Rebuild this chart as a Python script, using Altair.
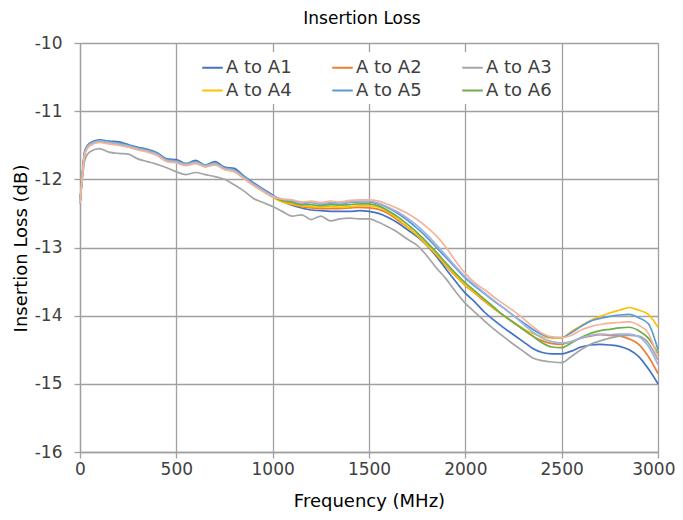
import altair as alt
import pandas as pd

# Frequency points (MHz)
freq = [0, 10, 25, 50] + list(range(100, 3001, 50))

names = ["A to A1", "A to A2", "A to A3", "A to A4", "A to A5", "A to A6", "A to A7", "A to A8"]
colors = ["#4472C4", "#ED7D31", "#A5A5A5", "#FFC000", "#5B9BD5", "#70AD47", "#9DB3E0", "#F4B49A"]

a1 = [-12.35, -12.0, -11.58, -11.47,
      -11.42, -11.44, -11.45, -11.49, -11.53, -11.56, -11.61, -11.7, -11.71, -11.77, -11.72, -11.79, -11.74, -11.82, -11.84, -11.95, -12.05, -12.14, -12.23,
      -12.32, -12.38, -12.42, -12.45, -12.46, -12.47, -12.47, -12.47, -12.46, -12.47,
      -12.5, -12.56, -12.64, -12.74, -12.84, -12.97, -13.13, -13.32, -13.5, -13.67, -13.8, -13.95, -14.07, -14.18, -14.28, -14.38, -14.48, -14.54, -14.56, -14.56,
      -14.52, -14.46, -14.43, -14.42, -14.43, -14.45, -14.5, -14.6, -14.78, -15.0]
a2 = [-12.35, -12.02, -11.62, -11.5,
      -11.45, -11.47, -11.49, -11.52, -11.56, -11.59, -11.64, -11.73, -11.75, -11.79, -11.76, -11.81, -11.78, -11.85, -11.88, -11.98, -12.08, -12.17, -12.26,
      -12.33, -12.37, -12.4, -12.42, -12.43, -12.43, -12.43, -12.42, -12.41, -12.42,
      -12.44, -12.5, -12.6, -12.7, -12.82, -12.96, -13.11, -13.27, -13.42, -13.56, -13.67, -13.79, -13.9, -14.0, -14.1, -14.2, -14.3, -14.37, -14.41, -14.42,
      -14.38, -14.33, -14.3, -14.28, -14.29, -14.3, -14.34, -14.42, -14.6, -14.85]
a3 = [-12.35, -12.05, -11.72, -11.6,
      -11.55, -11.6, -11.62, -11.63, -11.7, -11.74, -11.78, -11.83, -11.89, -11.93, -11.9, -11.93, -11.96, -12.0, -12.08, -12.17, -12.28, -12.34, -12.4,
      -12.47, -12.54, -12.52, -12.59, -12.54, -12.61, -12.58, -12.57, -12.58, -12.58,
      -12.63, -12.7, -12.78, -12.88, -12.97, -13.12, -13.3, -13.46, -13.65, -13.82, -13.95, -14.08, -14.2, -14.31, -14.42, -14.52, -14.62, -14.66, -14.68, -14.69,
      -14.6, -14.5, -14.42, -14.37, -14.33, -14.3, -14.29, -14.3, -14.4, -14.65]
a4 = [-12.35, -12.02, -11.62, -11.5,
      -11.45, -11.47, -11.49, -11.52, -11.56, -11.59, -11.64, -11.73, -11.75, -11.79, -11.76, -11.81, -11.78, -11.85, -11.88, -11.98, -12.08, -12.17, -12.26,
      -12.33, -12.36, -12.39, -12.4, -12.41, -12.4, -12.41, -12.4, -12.39, -12.39,
      -12.41, -12.48, -12.58, -12.7, -12.82, -12.96, -13.1, -13.26, -13.41, -13.55, -13.66, -13.78, -13.9, -14.0, -14.1, -14.19, -14.26, -14.31, -14.33, -14.33,
      -14.23, -14.15, -14.07, -14.01, -13.96, -13.92, -13.88, -13.92, -13.98, -14.17]
a5 = [-12.35, -12.0, -11.6, -11.48,
      -11.43, -11.45, -11.47, -11.5, -11.54, -11.57, -11.62, -11.71, -11.73, -11.77, -11.74, -11.79, -11.76, -11.83, -11.86, -11.96, -12.06, -12.15, -12.24,
      -12.3, -12.32, -12.36, -12.34, -12.37, -12.35, -12.36, -12.34, -12.33, -12.33,
      -12.36, -12.42, -12.5, -12.6, -12.72, -12.85, -13.0, -13.15, -13.3, -13.45, -13.57, -13.68, -13.79, -13.89, -14.0, -14.1, -14.2, -14.28, -14.32, -14.32,
      -14.25, -14.16, -14.08, -14.04, -14.01, -13.99, -13.98, -14.03, -14.12, -14.5]
a6 = [-12.35, -12.01, -11.61, -11.49,
      -11.44, -11.46, -11.48, -11.51, -11.55, -11.58, -11.63, -11.72, -11.74, -11.78, -11.75, -11.8, -11.77, -11.84, -11.87, -11.97, -12.07, -12.16, -12.25,
      -12.31, -12.34, -12.37, -12.37, -12.39, -12.37, -12.38, -12.37, -12.36, -12.36,
      -12.39, -12.46, -12.55, -12.66, -12.78, -12.92, -13.07, -13.23, -13.38, -13.52, -13.64, -13.76, -13.88, -14.0, -14.1, -14.2, -14.3, -14.4, -14.46, -14.47,
      -14.4, -14.32, -14.26, -14.22, -14.2, -14.18, -14.17, -14.22, -14.33, -14.55]
a7 = [-12.35, -12.01, -11.61, -11.49,
      -11.44, -11.46, -11.48, -11.51, -11.55, -11.58, -11.63, -11.72, -11.74, -11.78, -11.75, -11.8, -11.77, -11.84, -11.87, -11.97, -12.07, -12.16, -12.24,
      -12.29, -12.31, -12.35, -12.33, -12.36, -12.34, -12.35, -12.33, -12.32, -12.32,
      -12.35, -12.41, -12.48, -12.57, -12.68, -12.81, -12.96, -13.12, -13.28, -13.43, -13.55, -13.67, -13.78, -13.89, -14.0, -14.12, -14.24, -14.33, -14.38, -14.4,
      -14.38, -14.33, -14.29, -14.27, -14.28, -14.27, -14.27, -14.31, -14.45, -14.72]
a8 = [-12.35, -12.03, -11.63, -11.51,
      -11.46, -11.48, -11.5, -11.53, -11.57, -11.6, -11.65, -11.74, -11.76, -11.8, -11.77, -11.82, -11.79, -11.86, -11.89, -11.99, -12.09, -12.18, -12.26,
      -12.29, -12.3, -12.33, -12.32, -12.34, -12.32, -12.33, -12.31, -12.3, -12.3,
      -12.32, -12.37, -12.43, -12.5, -12.59, -12.7, -12.83, -13.0, -13.2, -13.38, -13.52, -13.62, -13.73, -13.83, -13.93, -14.04, -14.16, -14.26, -14.31, -14.32,
      -14.29, -14.21, -14.16, -14.13, -14.11, -14.1, -14.09, -14.14, -14.26, -14.62]

series_values = [a1, a2, a3, a4, a5, a6, a7, a8]

x_ticks = [0, 500, 1000, 1500, 2000, 2500, 3000]
y_ticks = [-16, -15, -14, -13, -12, -11, -10]

rows = []
for name, vals in zip(names, series_values):
    for f, v in zip(freq, vals):
        rows.append({"series": name, "freq": f, "loss": v})
df = pd.DataFrame(rows)

FONT = "DejaVu Sans"
GRID = "#A0A0A0"

chart = alt.Chart(df).mark_line(strokeWidth=1.7, interpolate="monotone").encode(
    x=alt.X("freq:Q",
            scale=alt.Scale(domain=[0, 3000], nice=False),
            axis=alt.Axis(values=x_ticks, title="Frequency (MHz)", labelExpr="'' + datum.value",
                          labelFlush=False, labelOverlap=False,
                          labelAlign={"condition": {"test": "datum.value == 3000", "value": "right"}, "value": "center"},
                          labelOffset={"condition": {"test": "datum.value == 3000", "value": 17}, "value": 0},
                          grid=True, gridColor=GRID, gridWidth=1.3,
                          domainColor=GRID, domainWidth=1.3, tickColor=GRID, tickWidth=1.3, tickSize=6,
                          labelFont=FONT, labelFontSize=17, labelColor="#404040", labelPadding=3,
                          titleFont=FONT, titleFontSize=18, titleFontWeight="normal", titleColor="#000000",
                          titleY=49, titleBaseline="middle")),
    y=alt.Y("loss:Q",
            scale=alt.Scale(domain=[-16, -10], nice=False, zero=False),
            axis=alt.Axis(values=y_ticks, title="Insertion Loss (dB)", labelExpr="'' + datum.value",
                          labelFlush=False, labelOverlap=False,
                          grid=True, gridColor=GRID, gridWidth=1.3,
                          domainColor=GRID, domainWidth=1.3, tickColor=GRID, tickWidth=1.3, tickSize=6,
                          labelFont=FONT, labelFontSize=17, labelColor="#404040", labelPadding=12,
                          titleFont=FONT, titleFontSize=18, titleFontWeight="normal", titleColor="#000000",
                          titleX=-59, titleY=205, titleAlign="center", titleBaseline="middle")),
    color=alt.Color("series:N",
                    scale=alt.Scale(domain=names, range=colors),
                    legend=alt.Legend(title=None, orient="none", legendX=117, legendY=9,
                                      direction="horizontal", columns=3, values=names[:6],
                                      symbolType="stroke", symbolSize=420, symbolStrokeWidth=2,
                                      labelFont=FONT, labelFontSize=18, labelColor="#404040",
                                      labelOffset=2, columnPadding=36, rowPadding=2,
                                      fillColor="white", padding=4)),
).properties(
    width=578, height=409,
    title=alt.TitleParams("Insertion Loss", font=FONT, fontSize=17, fontWeight="normal",
                          color="#000000", anchor="middle", frame="group", offset=6, dx=-7),
    autosize=alt.AutoSizeParams(type="none"),
    padding={"left": 72, "top": 35, "right": 17, "bottom": 60},
).configure_view(stroke=None).configure(background="white")

chart.save("out.html", embed_options={"renderer": "svg", "actions": False})
